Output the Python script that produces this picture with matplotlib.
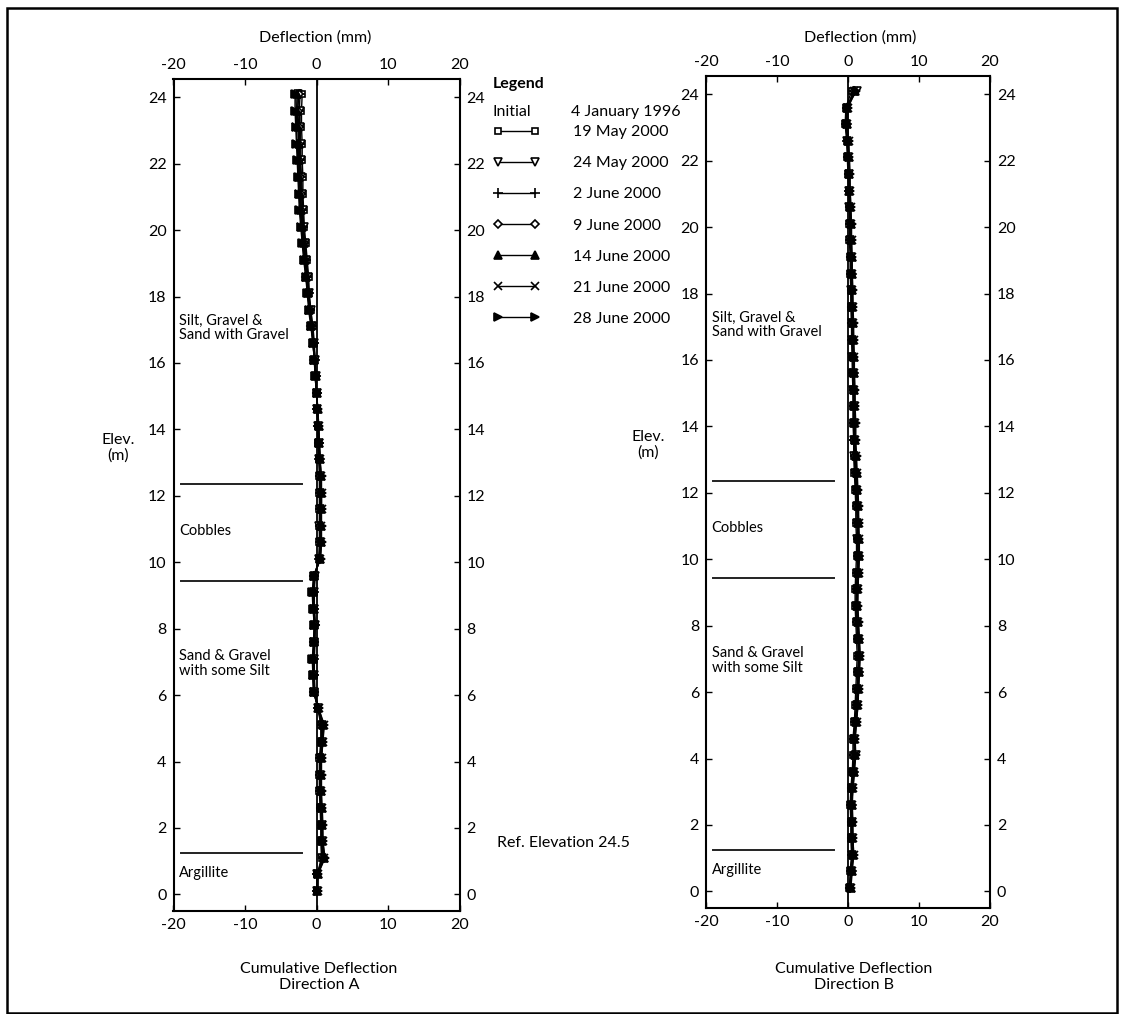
import numpy as np
import matplotlib
matplotlib.use("Agg")
from matplotlib import pyplot as plt
from matplotlib.patches import Rectangle
from matplotlib.transforms import blended_transform_factory

plt.rcParams['font.family'] = ['Lato', 'DejaVu Sans']
plt.rcParams['axes.unicode_minus'] = False

# elevations of the readings (m), top to bottom
elev = [24.1, 23.6, 23.1, 22.6, 22.1, 21.6, 21.1, 20.6, 20.1, 19.6,
        19.1, 18.6, 18.1, 17.6, 17.1, 16.6, 16.1, 15.6, 15.1, 14.6,
        14.1, 13.6, 13.1, 12.6, 12.1, 11.6, 11.1, 10.6, 10.1, 9.6,
        9.1, 8.6, 8.1, 7.6, 7.1, 6.6, 6.1, 5.6, 5.1, 4.6,
        4.1, 3.6, 3.1, 2.6, 2.1, 1.6, 1.1, 0.6, 0.1]

dates = ["19 May 2000", "24 May 2000", "2 June 2000", "9 June 2000",
         "14 June 2000", "21 June 2000", "28 June 2000"]

# Direction A cumulative deflection (mm)
a_19may = [-2.0, -2.1, -2.1, -2.0, -2.0, -1.9, -1.9, -1.8, -1.7, -1.5,
           -1.3, -1.1, -1.0, -0.8, -0.5, -0.3, -0.2, -0.1, 0.0, 0.1,
           0.2, 0.2, 0.3, 0.4, 0.4, 0.4, 0.4, 0.4, 0.3, -0.2,
           -0.3, -0.3, -0.2, -0.2, -0.3, -0.3, -0.2, 0.2, 0.6, 0.6,
           0.4, 0.4, 0.4, 0.5, 0.6, 0.6, 0.7, 0.1, 0.0]
a_24may = [-2.6, -2.3, -2.3, -2.2, -2.2, -2.1, -2.0, -1.9, -1.8, -1.6,
           -1.4, -1.2, -1.1, -0.8, -0.6, -0.4, -0.2, -0.1, 0.0, 0.1,
           0.2, 0.3, 0.4, 0.5, 0.5, 0.5, 0.4, 0.5, 0.4, -0.2,
           -0.4, -0.3, -0.2, -0.3, -0.4, -0.4, -0.3, 0.2, 0.7, 0.7,
           0.5, 0.5, 0.5, 0.6, 0.7, 0.7, 0.8, 0.1, 0.1]
a_2jun = [-2.3, -2.4, -2.4, -2.3, -2.3, -2.2, -2.1, -2.0, -1.9, -1.7,
          -1.5, -1.3, -1.1, -0.9, -0.6, -0.4, -0.2, -0.1, 0.0, 0.1,
          0.2, 0.3, 0.4, 0.5, 0.5, 0.5, 0.5, 0.5, 0.4, -0.3,
          -0.4, -0.3, -0.2, -0.3, -0.4, -0.4, -0.3, 0.2, 0.8, 0.7,
          0.5, 0.5, 0.5, 0.6, 0.7, 0.7, 0.9, 0.1, 0.1]
a_9jun = [-2.5, -2.6, -2.5, -2.4, -2.4, -2.3, -2.2, -2.1, -2.0, -1.8,
          -1.6, -1.4, -1.2, -0.9, -0.7, -0.4, -0.3, -0.1, 0.0, 0.1,
          0.2, 0.3, 0.5, 0.5, 0.6, 0.6, 0.5, 0.6, 0.5, -0.3,
          -0.5, -0.4, -0.2, -0.3, -0.5, -0.4, -0.4, 0.2, 0.9, 0.8,
          0.6, 0.5, 0.6, 0.6, 0.8, 0.8, 1.0, 0.1, 0.1]
a_14jun = [-2.7, -2.7, -2.6, -2.5, -2.5, -2.4, -2.3, -2.2, -2.0, -1.8,
           -1.6, -1.4, -1.2, -1.0, -0.7, -0.5, -0.3, -0.1, 0.0, 0.2,
           0.3, 0.4, 0.5, 0.6, 0.6, 0.6, 0.6, 0.6, 0.5, -0.3,
           -0.5, -0.4, -0.3, -0.4, -0.5, -0.5, -0.4, 0.2, 0.9, 0.8,
           0.6, 0.6, 0.6, 0.7, 0.8, 0.8, 1.0, 0.2, 0.1]
a_21jun = [-2.9, -2.8, -2.8, -2.7, -2.6, -2.5, -2.4, -2.3, -2.1, -1.9,
           -1.7, -1.5, -1.2, -1.0, -0.7, -0.5, -0.3, -0.2, 0.0, 0.1,
           0.3, 0.4, 0.5, 0.6, 0.7, 0.7, 0.6, 0.6, 0.5, -0.4,
           -0.5, -0.4, -0.3, -0.4, -0.5, -0.5, -0.4, 0.3, 1.0, 0.9,
           0.7, 0.6, 0.6, 0.7, 0.8, 0.9, 1.1, 0.2, 0.2]
a_28jun = [-3.0, -3.0, -2.9, -2.8, -2.7, -2.6, -2.5, -2.4, -2.2, -2.0,
           -1.8, -1.5, -1.3, -1.1, -0.8, -0.5, -0.3, -0.2, 0.0, 0.2,
           0.3, 0.4, 0.5, 0.7, 0.7, 0.7, 0.7, 0.7, 0.6, -0.4,
           -0.6, -0.5, -0.3, -0.4, -0.6, -0.5, -0.4, 0.3, 1.1, 0.9,
           0.7, 0.7, 0.7, 0.8, 0.9, 0.9, 1.2, 0.2, 0.2]

# Direction B cumulative deflection (mm)
b_19may = [0.5, -0.3, -0.4, -0.2, -0.1, 0.0, 0.1, 0.2, 0.2, 0.2,
           0.3, 0.3, 0.4, 0.4, 0.5, 0.5, 0.6, 0.6, 0.7, 0.7,
           0.7, 0.8, 0.8, 0.9, 1.0, 1.1, 1.1, 1.2, 1.2, 1.1,
           1.0, 1.0, 1.1, 1.2, 1.3, 1.2, 1.1, 1.0, 0.9, 0.7,
           0.7, 0.6, 0.4, 0.3, 0.4, 0.4, 0.5, 0.3, 0.2]
b_24may = [1.2, -0.2, -0.3, -0.1, 0.0, 0.1, 0.1, 0.2, 0.3, 0.3,
           0.4, 0.4, 0.4, 0.5, 0.5, 0.6, 0.6, 0.7, 0.7, 0.8,
           0.8, 0.9, 0.9, 1.0, 1.1, 1.2, 1.3, 1.3, 1.4, 1.3,
           1.2, 1.1, 1.2, 1.4, 1.5, 1.4, 1.3, 1.2, 1.0, 0.8,
           1.1, 0.7, 0.5, 0.4, 0.5, 0.5, 0.6, 0.4, 0.3]
b_2jun = [0.8, -0.2, -0.3, -0.1, 0.0, 0.1, 0.2, 0.3, 0.3, 0.3,
          0.4, 0.4, 0.5, 0.5, 0.6, 0.6, 0.7, 0.7, 0.8, 0.8,
          0.8, 0.9, 1.0, 1.1, 1.2, 1.3, 1.3, 1.4, 1.4, 1.3,
          1.2, 1.2, 1.3, 1.4, 1.5, 1.4, 1.3, 1.2, 1.0, 0.8,
          0.9, 0.7, 0.5, 0.4, 0.5, 0.5, 0.6, 0.4, 0.3]
b_9jun = [0.9, -0.1, -0.2, 0.0, 0.0, 0.1, 0.2, 0.3, 0.4, 0.4,
          0.4, 0.5, 0.5, 0.6, 0.6, 0.7, 0.7, 0.8, 0.8, 0.9,
          0.9, 0.9, 1.0, 1.1, 1.2, 1.3, 1.4, 1.4, 1.5, 1.4,
          1.3, 1.2, 1.3, 1.5, 1.6, 1.5, 1.4, 1.3, 1.1, 0.9,
          0.9, 0.8, 0.6, 0.5, 0.5, 0.6, 0.7, 0.5, 0.3]
b_14jun = [1.0, -0.1, -0.2, 0.0, 0.1, 0.2, 0.2, 0.3, 0.4, 0.4,
           0.5, 0.5, 0.6, 0.6, 0.7, 0.7, 0.8, 0.8, 0.9, 0.9,
           0.9, 1.0, 1.1, 1.2, 1.3, 1.4, 1.4, 1.5, 1.5, 1.4,
           1.3, 1.3, 1.4, 1.5, 1.6, 1.5, 1.4, 1.3, 1.1, 0.9,
           1.0, 0.8, 0.6, 0.5, 0.6, 0.6, 0.7, 0.5, 0.4]
b_21jun = [0.9, 0.0, -0.1, 0.1, 0.1, 0.2, 0.3, 0.4, 0.4, 0.5,
           0.5, 0.6, 0.6, 0.7, 0.7, 0.8, 0.8, 0.9, 0.9, 1.0,
           1.0, 1.0, 1.1, 1.2, 1.3, 1.4, 1.5, 1.5, 1.6, 1.5,
           1.4, 1.3, 1.4, 1.6, 1.7, 1.6, 1.5, 1.4, 1.2, 1.0,
           1.0, 0.9, 0.7, 0.5, 0.6, 0.7, 0.8, 0.5, 0.4]
b_28jun = [1.1, 0.0, -0.1, 0.1, 0.2, 0.3, 0.3, 0.4, 0.5, 0.5,
           0.6, 0.6, 0.7, 0.7, 0.8, 0.8, 0.9, 0.9, 1.0, 1.0,
           1.1, 1.1, 1.2, 1.3, 1.4, 1.5, 1.5, 1.6, 1.6, 1.5,
           1.4, 1.4, 1.5, 1.6, 1.7, 1.6, 1.5, 1.4, 1.2, 1.0,
           1.1, 0.9, 0.7, 0.6, 0.7, 0.7, 0.8, 0.6, 0.4]

dir_a = [a_19may, a_24may, a_2jun, a_9jun, a_14jun, a_21jun, a_28jun]
dir_b = [b_19may, b_24may, b_2jun, b_9jun, b_14jun, b_21jun, b_28jun]

# soil layer boundaries (m) and labels
boundaries = [12.35, 9.45, 1.25]
layers = [("Silt, Gravel &\nSand with Gravel", 17.05),
          ("Cobbles", 10.95),
          ("Sand & Gravel\nwith some Silt", 6.95),
          ("Argillite", 0.65)]

markers = ['s', 'v', '+', 'D', '^', 'x', '>']
facecol = ['white', 'white', 'black', 'white', 'black', 'black', 'black']
msizes = [5, 5.5, 7, 4.5, 5.5, 6, 5.5]

W, H = 1125, 1014
fig = plt.figure(figsize=(W / 100, H / 100), dpi=100)

ax1 = fig.add_axes([173.5 / W, 1 - 911 / H, 286 / W, 832 / H])
ax2 = fig.add_axes([706 / W, 1 - 908 / H, 284 / W, 832 / H])

fs = 11.5
for ax, data in [(ax1, dir_a), (ax2, dir_b)]:
    ax.axvline(0, color='black', lw=1.3, zorder=1)
    lines = []
    for i, vals in enumerate(data):
        ln, = ax.plot(vals, elev, color='black', lw=1.0, marker=markers[i],
                      ms=msizes[i], mfc=facecol[i], mec='black', mew=1.2,
                      label=dates[i], zorder=3)
        lines.append(ln)
    for b in boundaries:
        ax.plot([-19, -2], [b, b], color='#222222', lw=1.4, zorder=2)
    for txt, yv in layers:
        ax.text(-19.2, yv, txt, fontsize=10.5, ha='left', va='center',
                linespacing=1.05)
    ax.set_xlim(-20, 20)
    ax.set_ylim(-0.5, 24.55)
    ax.set_xticks([-20, -10, 0, 10, 20])
    ax.set_yticks(range(0, 25, 2))
    ax.tick_params(direction='in', top=True, right=True, labeltop=True,
                   labelright=True, length=4, width=1, labelsize=fs, pad=5)
    for sp in ax.spines.values():
        sp.set_linewidth(1.5)

tr1 = blended_transform_factory(fig.transFigure, ax1.transData)
tr2 = blended_transform_factory(fig.transFigure, ax2.transData)
fig.text(118 / W, 13.45, "Elev.\n(m)", transform=tr1, fontsize=fs,
         ha='center', va='center', linespacing=1.1)
fig.text(648 / W, 13.45, "Elev.\n(m)", transform=tr2, fontsize=fs,
         ha='center', va='center', linespacing=1.1)

fig.text(315 / W, 1 - 38 / H, "Deflection (mm)", fontsize=fs,
         ha='center', va='center')
fig.text(860 / W, 1 - 38 / H, "Deflection (mm)", fontsize=fs,
         ha='center', va='center')
fig.text(319 / W, 1 - 977 / H, "Cumulative Deflection\nDirection A",
         fontsize=fs, ha='center', va='center', linespacing=1.25)
fig.text(854 / W, 1 - 977 / H, "Cumulative Deflection\nDirection B",
         fontsize=fs, ha='center', va='center', linespacing=1.25)

# legend
fig.text(493 / W, 1 - 84 / H, "Legend", fontsize=fs, fontweight='bold',
         ha='left', va='center')
fig.text(493 / W, 1 - 112 / H, "Initial", fontsize=fs, ha='left', va='center')
fig.text(571 / W, 1 - 112 / H, "4 January 1996", fontsize=fs, ha='left',
         va='center')
fig.legend(handles=lines, labels=dates, loc='upper left',
           bbox_to_anchor=(493 / W, 1 - 125 / H), frameon=False, numpoints=2,
           handlelength=2.9, handletextpad=2.1, labelspacing=1.06,
           borderpad=0, borderaxespad=0, fontsize=fs)

fig.text(497 / W, 1 - 843 / H, "Ref. Elevation 24.5", fontsize=fs,
         ha='left', va='center')

fig.add_artist(Rectangle((7 / W, 1 / H), 1110 / W, 1005 / H,
                         transform=fig.transFigure, fill=False,
                         lw=1.8, color='black'))

fig.savefig("out.png", dpi=100)
